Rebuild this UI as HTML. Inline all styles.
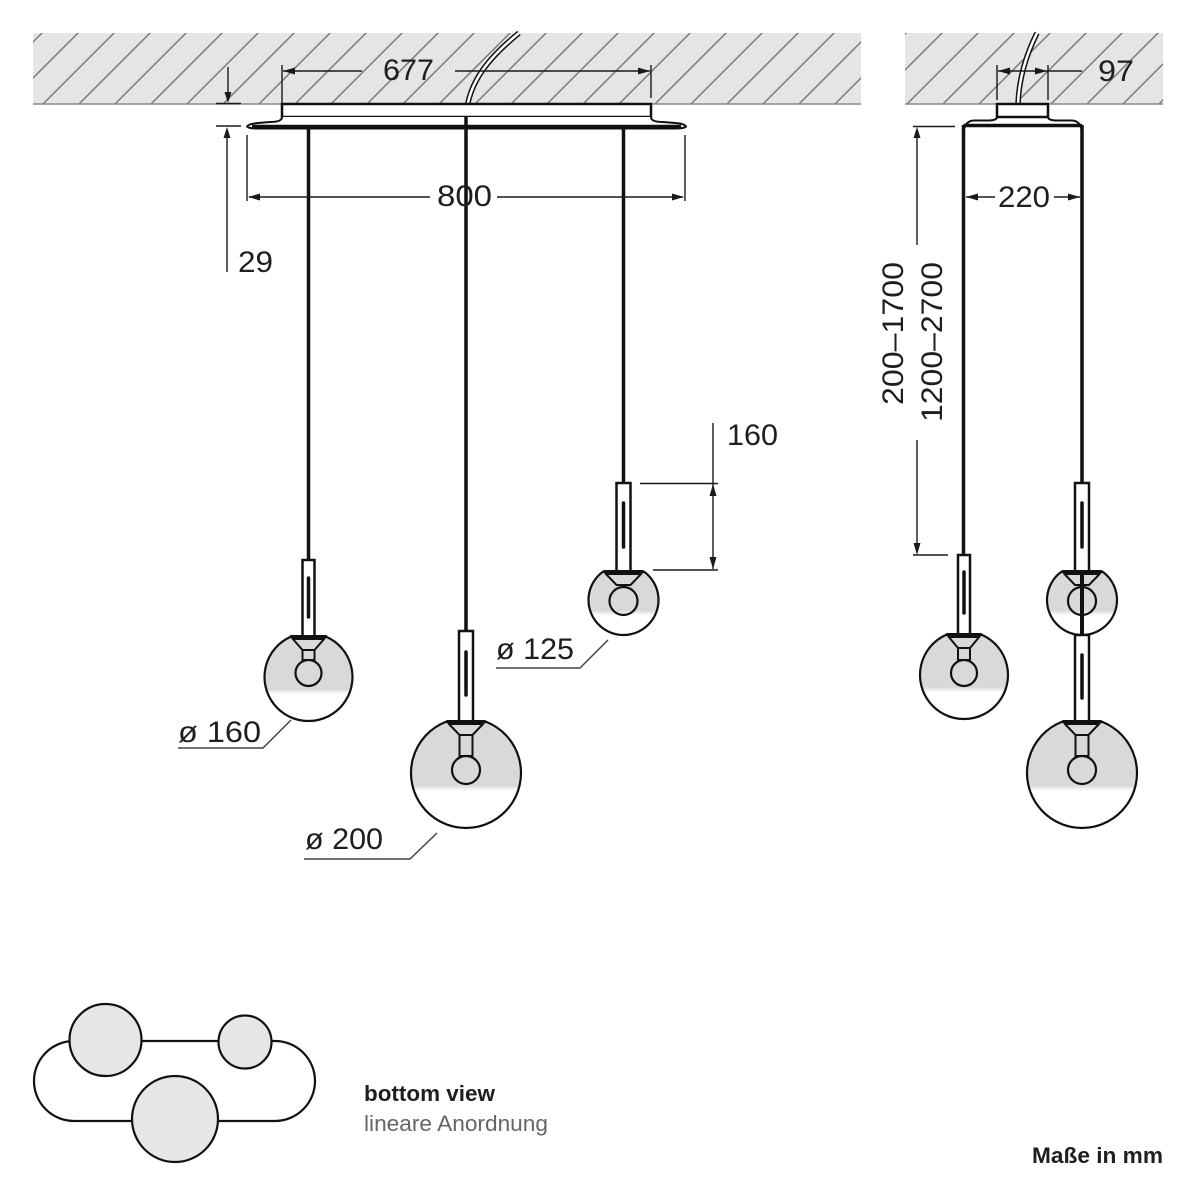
<!DOCTYPE html>
<html>
<head>
<meta charset="utf-8">
<style>
html,body{margin:0;padding:0;background:#fff;}
svg{display:block;}
text{font-family:"Liberation Sans",Arial,sans-serif;fill:#1e1e1e;}
</style>
</head>
<body>
<svg width="1200" height="1200" viewBox="0 0 1200 1200" xmlns="http://www.w3.org/2000/svg">
<defs>
  <pattern id="h" width="36" height="36" patternUnits="userSpaceOnUse">
    <rect width="36" height="36" fill="#e5e5e5"/>
    <path d="M-2,5 L5,-2 M-2,41 L41,-2 M34,41 L41,34" stroke="#747474" stroke-width="1.4"/>
  </pattern>
  <linearGradient id="g160" x1="0" y1="0" x2="0" y2="1">
    <stop offset="0" stop-color="#d9d9d9"/><stop offset="0.62" stop-color="#d9d9d9"/><stop offset="0.68" stop-color="#ffffff"/><stop offset="1" stop-color="#ffffff"/>
  </linearGradient>
  <linearGradient id="g200" x1="0" y1="0" x2="0" y2="1">
    <stop offset="0" stop-color="#d9d9d9"/><stop offset="0.60" stop-color="#d9d9d9"/><stop offset="0.65" stop-color="#ffffff"/><stop offset="1" stop-color="#ffffff"/>
  </linearGradient>
  <linearGradient id="g125" x1="0" y1="0" x2="0" y2="1">
    <stop offset="0" stop-color="#d9d9d9"/><stop offset="0.61" stop-color="#d9d9d9"/><stop offset="0.69" stop-color="#ffffff"/><stop offset="1" stop-color="#ffffff"/>
  </linearGradient>
</defs>

<!-- Ceilings -->
<rect x="33" y="33" width="828" height="71" fill="url(#h)"/>
<line x1="33" y1="104" x2="861" y2="104" stroke="#8a8a8a" stroke-width="1.5"/>
<rect x="905" y="33" width="258" height="71" fill="url(#h)"/>
<line x1="905" y1="104" x2="1163" y2="104" stroke="#8a8a8a" stroke-width="1.5"/>

<!-- Left cable -->
<path d="M519,33 C492,55 468,80 466,117" fill="none" stroke="#111" stroke-width="5.5"/>
<path d="M519,33 C492,55 468,80 466,117" fill="none" stroke="#fff" stroke-width="2.5"/>
<!-- Right cable -->
<path d="M1037,33 C1026,55 1019,78 1018,104" fill="none" stroke="#111" stroke-width="5.5"/>
<path d="M1037,33 C1026,55 1019,78 1018,104" fill="none" stroke="#fff" stroke-width="2.5"/>

<!-- Left canopy -->
<rect x="282" y="104" width="369" height="13" fill="#fff" stroke="#111" stroke-width="2.5"/>
<path d="M282,117 Q282,122 270,122 L258,123 Q248,124 247,126.5 Q249,128.5 257,128.5 L676,128.5 Q684,128.5 686,126.5 Q684,123.5 675,123 L663,122 Q651,122 651,117" fill="#fff" stroke="#111" stroke-width="2"/>
<line x1="252" y1="126.5" x2="681" y2="126.5" stroke="#111" stroke-width="3.5"/>

<!-- Right canopy -->
<rect x="997" y="104" width="51" height="13" fill="#fff" stroke="#111" stroke-width="2.5"/>
<path d="M963.5,135 Q963.5,121 974,120.5 L990,120.5 Q997,120 997,117 M1048,117 Q1048,120 1055,120.5 L1072,120.5 Q1082,121 1082,135" fill="none" stroke="#111" stroke-width="2"/>
<line x1="963.5" y1="125.5" x2="1082" y2="125.5" stroke="#111" stroke-width="3.5"/>

<!-- Rods -->
<g stroke="#111" stroke-width="3.5">
  <line x1="308.5" y1="127" x2="308.5" y2="560"/>
  <line x1="466" y1="117" x2="466" y2="631"/>
  <line x1="623.5" y1="127" x2="623.5" y2="483"/>
  <line x1="963.5" y1="125" x2="963.5" y2="555"/>
  <line x1="1082" y1="125" x2="1082" y2="483"/>
</g>

<!-- Pendant G1: left ø160 -->
<g stroke="#111">
  <rect x="302.5" y="560" width="12" height="77" fill="#fff" stroke-width="2.5"/>
  <line x1="308.5" y1="578" x2="308.5" y2="617" stroke-width="3.5" stroke-linecap="round"/>
  <path d="M290.2,637 A44,44 0 1 0 326.8,637 Z" fill="url(#g160)" stroke-width="2.2"/>
  <path d="M292,638 L302.5,650 L314.5,650 L325,638" fill="none" stroke-width="2"/>
  <rect x="302.5" y="650" width="12" height="10" fill="none" stroke-width="2"/>
  <circle cx="308.5" cy="673" r="13" fill="none" stroke-width="2.2"/>
  <polygon points="290,635 327,635 324,640 293,640" fill="#111" stroke="none"/>
</g>

<!-- Pendant G2: center ø200 -->
<g stroke="#111">
  <rect x="459" y="631" width="14" height="91" fill="#fff" stroke-width="2.5"/>
  <line x1="466" y1="652" x2="466" y2="695" stroke-width="3.5" stroke-linecap="round"/>
  <path d="M445.4,722 A55,55 0 1 0 486.6,722 Z" fill="url(#g200)" stroke-width="2.2"/>
  <path d="M448,723 L459.5,735 L472.5,735 L484,723" fill="none" stroke-width="2"/>
  <rect x="459.5" y="735" width="13" height="21" fill="none" stroke-width="2"/>
  <circle cx="466" cy="770" r="14" fill="none" stroke-width="2.2"/>
  <polygon points="446,720 486,720 483,725 449,725" fill="#111" stroke="none"/>
</g>

<!-- Pendant G3: right ø125 -->
<g stroke="#111">
  <rect x="616.5" y="483" width="14" height="89" fill="#fff" stroke-width="2.5"/>
  <line x1="623.5" y1="503" x2="623.5" y2="547" stroke-width="3.5" stroke-linecap="round"/>
  <path d="M602.5,572 A35,35 0 1 0 644.5,572 Z" fill="url(#g125)" stroke-width="2.2"/>
  <path d="M605,573 L616.5,585 L630.5,585 L642,573" fill="none" stroke-width="2"/>
  <circle cx="623.5" cy="601" r="14" fill="none" stroke-width="2.2"/>
  <polygon points="603,570 644,570 641,575 606,575" fill="#111" stroke="none"/>
</g>

<!-- Side S1: ø160 -->
<g stroke="#111">
  <rect x="958" y="555" width="12" height="80" fill="#fff" stroke-width="2.5"/>
  <line x1="964" y1="572" x2="964" y2="613" stroke-width="3.5" stroke-linecap="round"/>
  <path d="M945.7,635 A44,44 0 1 0 982.3,635 Z" fill="url(#g160)" stroke-width="2.2"/>
  <path d="M948,636 L958,648 L970,648 L980,636" fill="none" stroke-width="2"/>
  <rect x="958" y="648" width="12" height="12" fill="none" stroke-width="2"/>
  <circle cx="964" cy="673" r="13" fill="none" stroke-width="2.2"/>
  <polygon points="946,633 982,633 979,638 949,638" fill="#111" stroke="none"/>
</g>

<!-- Side S2: ø125 -->
<g stroke="#111">
  <rect x="1075" y="483" width="14" height="89" fill="#fff" stroke-width="2.5"/>
  <line x1="1082" y1="503" x2="1082" y2="547" stroke-width="3.5" stroke-linecap="round"/>
  <path d="M1061,572 A35,35 0 1 0 1103,572 Z" fill="url(#g125)" stroke-width="2.2"/>
  <path d="M1063.5,573 L1075,585 L1089,585 L1100.5,573" fill="none" stroke-width="2"/>
  <circle cx="1082" cy="601" r="14" fill="none" stroke-width="2.2"/>
  <line x1="1082" y1="572" x2="1082" y2="635" stroke-width="4"/>
  <polygon points="1061.5,570 1102.5,570 1099.5,575 1064.5,575" fill="#111" stroke="none"/>
</g>

<!-- Side S3: ø200 -->
<g stroke="#111">
  <rect x="1075" y="635" width="14" height="87" fill="#fff" stroke-width="2.5"/>
  <line x1="1082" y1="655" x2="1082" y2="698" stroke-width="3.5" stroke-linecap="round"/>
  <path d="M1061.4,722 A55,55 0 1 0 1102.6,722 Z" fill="url(#g200)" stroke-width="2.2"/>
  <path d="M1064,723 L1075.5,735 L1088.5,735 L1100,723" fill="none" stroke-width="2"/>
  <rect x="1075.5" y="735" width="13" height="21" fill="none" stroke-width="2"/>
  <circle cx="1082" cy="770" r="14" fill="none" stroke-width="2.2"/>
  <polygon points="1062,720 1102,720 1099,725 1065,725" fill="#111" stroke="none"/>
</g>

<!-- Dimension lines -->
<g stroke="#1a1a1a" stroke-width="1.4" fill="none">
  <!-- 677 -->
  <line x1="282" y1="65" x2="282" y2="104"/>
  <line x1="651" y1="65" x2="651" y2="98"/>
  <line x1="283" y1="71" x2="362" y2="71"/>
  <line x1="455" y1="71" x2="650" y2="71"/>
  <!-- 29 -->
  <line x1="228" y1="67" x2="228" y2="95"/>
  <line x1="216" y1="103.5" x2="241" y2="103.5"/>
  <line x1="216" y1="126" x2="241" y2="126"/>
  <line x1="227" y1="136" x2="227" y2="272"/>
  <!-- 800 -->
  <line x1="247" y1="135" x2="247" y2="201"/>
  <line x1="685" y1="135" x2="685" y2="201"/>
  <line x1="249" y1="197" x2="430" y2="197"/>
  <line x1="497" y1="197" x2="683" y2="197"/>
  <!-- 160 -->
  <line x1="713" y1="423" x2="713" y2="569"/>
  <line x1="640" y1="483.5" x2="718" y2="483.5"/>
  <line x1="653" y1="570" x2="718" y2="570"/>
  <!-- 97 -->
  <line x1="997" y1="65" x2="997" y2="100"/>
  <line x1="1048" y1="65" x2="1048" y2="100"/>
  <line x1="998" y1="71" x2="1082" y2="71"/>
  <!-- 220 -->
  <line x1="966" y1="197" x2="995" y2="197"/>
  <line x1="1054" y1="197" x2="1080" y2="197"/>
  <!-- vertical 200-1700 -->
  <line x1="913" y1="126.5" x2="955" y2="126.5"/>
  <line x1="917" y1="136" x2="917" y2="245"/>
  <line x1="917" y1="440" x2="917" y2="546"/>
  <line x1="913" y1="555" x2="948" y2="555"/>
</g>
<!-- Arrowheads -->
<g fill="#1a1a1a">
  <polygon points="283,71 295,67.5 295,74.5"/>
  <polygon points="650,71 638,67.5 638,74.5"/>
  <polygon points="228,103 224.5,92 231.5,92"/>
  <polygon points="227,127 223.5,138 230.5,138"/>
  <polygon points="248,197 260,193.5 260,200.5"/>
  <polygon points="684,197 672,193.5 672,200.5"/>
  <polygon points="713,484 709.5,496 716.5,496"/>
  <polygon points="713,569 709.5,557 716.5,557"/>
  <polygon points="998,71 1010,67.5 1010,74.5"/>
  <polygon points="1047,71 1035,67.5 1035,74.5"/>
  <polygon points="966,197 978,193.5 978,200.5"/>
  <polygon points="1080,197 1068,193.5 1068,200.5"/>
  <polygon points="917,127 913.5,138 920.5,138"/>
  <polygon points="917,555 913.5,543 920.5,543"/>
</g>

<!-- Diameter leader lines -->
<g stroke="#444" stroke-width="1.5" fill="none">
  <polyline points="496,668 580,668 608,640"/>
  <polyline points="178,748 263,748 291,720"/>
  <polyline points="304,859 410,859 437,833"/>
</g>

<!-- Dimension texts -->
<g font-size="30">
  <text x="383" y="80" textLength="51" lengthAdjust="spacingAndGlyphs">677</text>
  <text x="437" y="206" textLength="55" lengthAdjust="spacingAndGlyphs">800</text>
  <text x="238" y="272" textLength="35" lengthAdjust="spacingAndGlyphs">29</text>
  <text x="727" y="445" textLength="51" lengthAdjust="spacingAndGlyphs">160</text>
  <text x="1098" y="81" textLength="36" lengthAdjust="spacingAndGlyphs">97</text>
  <text x="998" y="207" textLength="52" lengthAdjust="spacingAndGlyphs">220</text>
  <text x="496" y="659" textLength="78" lengthAdjust="spacingAndGlyphs">ø 125</text>
  <text x="178" y="742" textLength="83" lengthAdjust="spacingAndGlyphs">ø 160</text>
  <text x="305" y="849" textLength="78" lengthAdjust="spacingAndGlyphs">ø 200</text>
  <text transform="translate(903,405) rotate(-90)" textLength="143" lengthAdjust="spacingAndGlyphs">200–1700</text>
  <text transform="translate(942,422) rotate(-90)" textLength="160" lengthAdjust="spacingAndGlyphs">1200–2700</text>
</g>

<!-- Bottom view -->
<path d="M74,1041 L275,1041 A40,40 0 0 1 275,1121 L74,1121 A40,40 0 0 1 74,1041 Z" fill="none" stroke="#111" stroke-width="2.2"/>
<g fill="#e6e6e6" stroke="#111" stroke-width="2.2">
  <circle cx="105.5" cy="1040" r="36"/>
  <circle cx="245" cy="1042" r="26.5"/>
  <circle cx="175" cy="1119" r="43"/>
</g>

<text x="364" y="1101" font-size="22" font-weight="bold" fill="#222" textLength="131" lengthAdjust="spacingAndGlyphs">bottom view</text>
<text x="364" y="1131" font-size="22" fill="#666" style="fill:#666" textLength="184" lengthAdjust="spacingAndGlyphs">lineare Anordnung</text>
<text x="1032" y="1163" font-size="22" font-weight="bold" fill="#222" textLength="131" lengthAdjust="spacingAndGlyphs">Maße in mm</text>
</svg>
</body>
</html>
